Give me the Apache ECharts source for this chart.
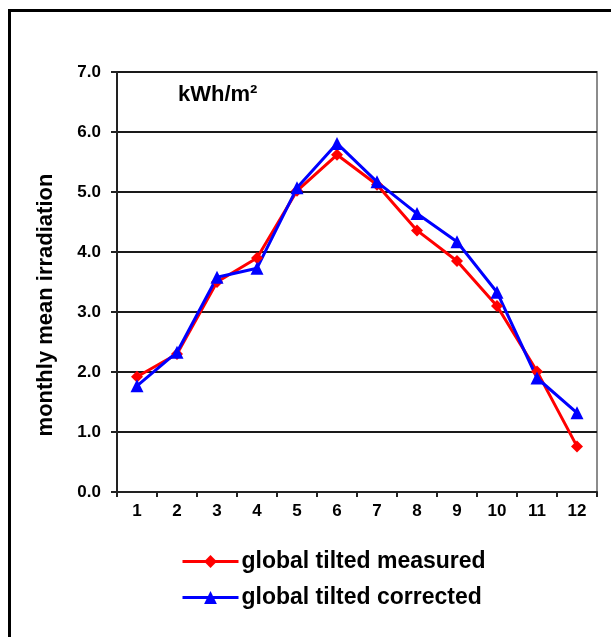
<!DOCTYPE html>
<html>
<head>
<meta charset="utf-8">
<script src="https://cdn.jsdelivr.net/npm/echarts@6/dist/echarts.min.js"></script>
<style>
  html, body { margin: 0; padding: 0; background: #fff; }
  #main { width: 611px; height: 637px; }
</style>
</head>
<body>
<div id="main"></div>
<script>
var months = ["1", "2", "3", "4", "5", "6", "7", "8", "9", "10", "11", "12"];
var measured = [1.92, 2.3, 3.5, 3.9, 5.02, 5.62, 5.12, 4.36, 3.85, 3.1, 2.01, 0.76];
var corrected = [1.77, 2.33, 3.58, 3.73, 5.07, 5.81, 5.17, 4.64, 4.17, 3.33, 1.9, 1.32];
var font = "'Liberation Sans', Arial, sans-serif";

var myChart = echarts.init(document.getElementById("main"));
myChart.setOption({
  animation: false,
  textStyle: { fontFamily: font },
  // frame round the whole picture, unit note and the axis title
  graphic: [
    {
      type: "rect",
      shape: { x: 9.5, y: 10.5, width: 700, height: 700 },
      style: { fill: null, stroke: "#000", lineWidth: 3 }
    },
    {
      type: "text",
      left: 178,
      top: 84,
      style: {
        text: "kWh/m²",
        font: "bold 22px " + font,
        fill: "#000"
      }
    },
    {
      type: "text",
      x: 46,
      y: 305,
      rotation: Math.PI / 2,
      style: {
        text: "monthly mean irradiation",
        font: "bold 22px " + font,
        fill: "#000",
        align: "center",
        verticalAlign: "middle"
      }
    }
  ],
  grid: {
    left: 117,
    top: 72,
    right: 14,
    bottom: 145,
    show: true,
    borderColor: "#8c8c8c",
    borderWidth: 2
  },
  legend: {
    orient: "vertical",
    left: 181,
    top: 550,
    padding: 0,
    itemWidth: 56,
    itemHeight: 16,
    itemGap: 13,
    lineStyle: { width: 3 },
    textStyle: { fontSize: 23, fontWeight: "bold", color: "#000", fontFamily: font, padding: [0, 0, 0, -2] },
    data: ["global tilted measured", "global tilted corrected"]
  },
  xAxis: {
    type: "category",
    data: months,
    boundaryGap: true,
    axisLine: { lineStyle: { color: "#222", width: 2 } },
    axisTick: { show: true, length: 5, lineStyle: { color: "#222", width: 2 } },
    axisLabel: { fontSize: 17, fontWeight: "bold", color: "#000", margin: 11 }
  },
  yAxis: {
    type: "value",
    min: 0,
    max: 7,
    interval: 1,
    axisLine: { show: true, lineStyle: { color: "#222", width: 2 } },
    axisTick: { show: true, length: 6, lineStyle: { color: "#222", width: 2 } },
    axisLabel: {
      fontSize: 17,
      fontWeight: "bold",
      color: "#000",
      margin: 16,
      formatter: function (v) { return v.toFixed(1); }
    },
    splitLine: { show: true, lineStyle: { color: "#1a1a1a", width: 2 } }
  },
  series: [
    {
      name: "global tilted measured",
      type: "line",
      data: measured,
      symbol: "diamond",
      symbolSize: 12,
      color: "#ff0000",
      lineStyle: { width: 3 },
      itemStyle: { color: "#ff0000" }
    },
    {
      name: "global tilted corrected",
      type: "line",
      data: corrected,
      symbol: "triangle",
      symbolSize: 13,
      color: "#0000ff",
      lineStyle: { width: 3 },
      itemStyle: { color: "#0000ff" }
    }
  ]
});
</script>
</body>
</html>
